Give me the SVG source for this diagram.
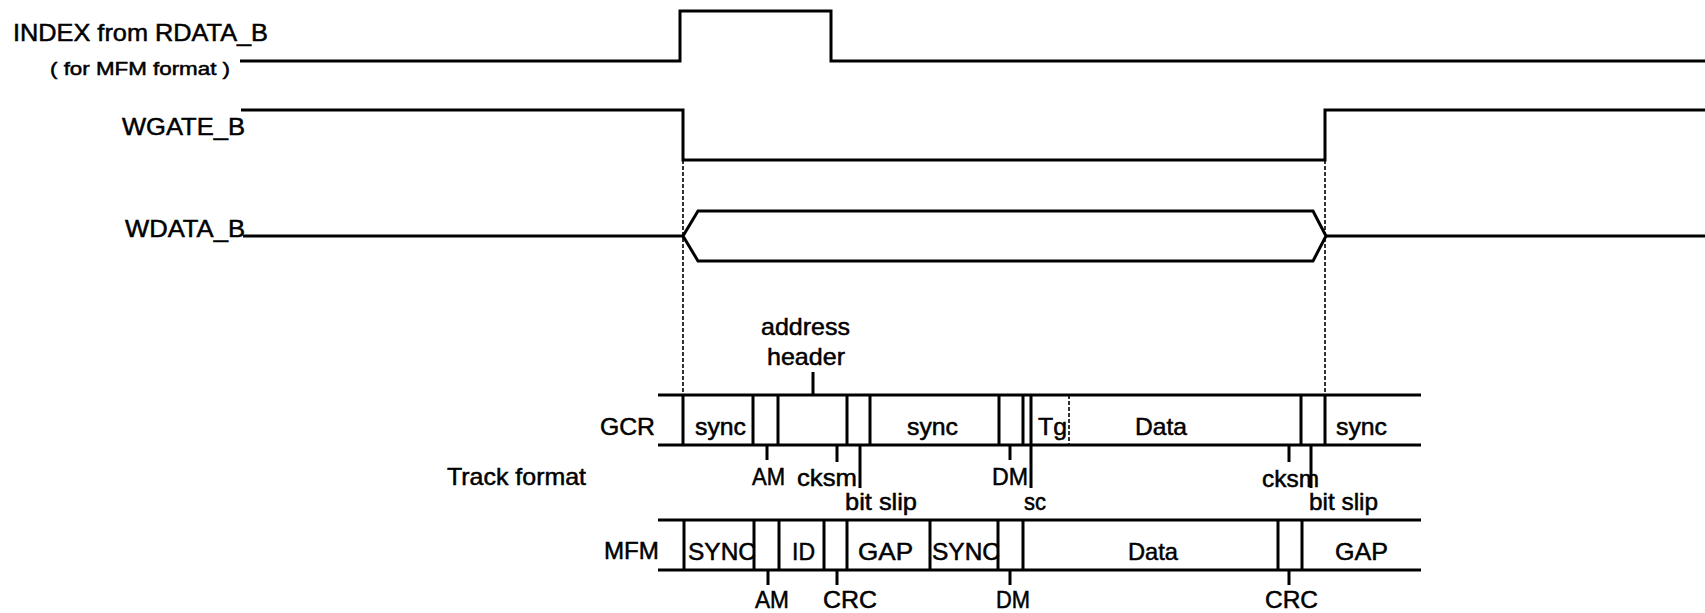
<svg xmlns="http://www.w3.org/2000/svg" width="1705" height="613" viewBox="0 0 1705 613">
<style>
.w{fill:none;stroke:#000;stroke-width:3;stroke-linejoin:miter;stroke-linecap:butt}
.d{fill:none;stroke:#000;stroke-width:1.6;stroke-dasharray:4 2}
.t{font-family:"Liberation Sans",Arial,Helvetica,sans-serif;font-size:24px;fill:#000;stroke:#000;stroke-width:0.5}
.s{font-family:"Liberation Sans",Arial,Helvetica,sans-serif;font-size:18px;fill:#000;stroke:#000;stroke-width:0.5}
</style>
<rect width="1705" height="613" fill="#fff"/>

<g id="signal-labels">
<text class="t" x="13" y="41" textLength="255" lengthAdjust="spacingAndGlyphs">INDEX from RDATA_B</text>
<text class="s" x="50" y="75" textLength="180" lengthAdjust="spacingAndGlyphs">( for MFM format )</text>
<text class="t" x="122" y="135" textLength="123" lengthAdjust="spacingAndGlyphs">WGATE_B</text>
<text class="t" x="125" y="237" textLength="120" lengthAdjust="spacingAndGlyphs">WDATA_B</text>
</g>

<g id="waveforms">
<polyline class="w" points="240,61 680,61 680,11 831,11 831,61 1705,61"/>
<polyline class="w" points="241,110 683,110 683,160 1325,160 1325,110 1705,110"/>
<polyline class="w" points="243,236 683,236"/>
<polygon class="w" points="683,236 698,211 1313,211 1326,236 1313,261 698,261"/>
<polyline class="w" points="1326,236 1705,236"/>
</g>

<g id="guides">
<line class="d" x1="683" y1="160" x2="683" y2="395"/>
<line class="d" x1="1325" y1="160" x2="1325" y2="395"/>
<line class="d" x1="1069" y1="395" x2="1069" y2="445"/>
</g>

<g id="track-labels">
<text class="t" x="600" y="435" textLength="55" lengthAdjust="spacingAndGlyphs">GCR</text>
<text class="t" x="447" y="485" textLength="139" lengthAdjust="spacingAndGlyphs">Track format</text>
<text class="t" x="604" y="559" textLength="55" lengthAdjust="spacingAndGlyphs">MFM</text>
<text class="t" x="761" y="335" textLength="89" lengthAdjust="spacingAndGlyphs">address</text>
<text class="t" x="767" y="365" textLength="78" lengthAdjust="spacingAndGlyphs">header</text>
</g>

<g id="gcr-track">
<line class="w" x1="658" y1="395" x2="1421" y2="395"/>
<line class="w" x1="658" y1="445" x2="1421" y2="445"/>
<path class="w" d="M683 395V445M753 395V445M778 395V445M847 395V445M870 395V445M999 395V445M1023 395V445M1031 395V445M1301 395V445M1325 395V445"/>
<path class="w" d="M813 372V395M767 445V460M837 445V462M860 445V488M1010 445V460M1031 445V488M1289 445V462M1311 445V488"/>
<text class="t" x="695" y="435" textLength="51" lengthAdjust="spacingAndGlyphs">sync</text>
<text class="t" x="907" y="435" textLength="51" lengthAdjust="spacingAndGlyphs">sync</text>
<text class="t" x="1038" y="435" textLength="29" lengthAdjust="spacingAndGlyphs">Tg</text>
<text class="t" x="1135" y="435" textLength="52" lengthAdjust="spacingAndGlyphs">Data</text>
<text class="t" x="1336" y="435" textLength="51" lengthAdjust="spacingAndGlyphs">sync</text>
<text class="t" x="752" y="485" textLength="33" lengthAdjust="spacingAndGlyphs">AM</text>
<text class="t" x="797" y="486" textLength="60" lengthAdjust="spacingAndGlyphs">cksm</text>
<text class="t" x="845" y="510" textLength="72" lengthAdjust="spacingAndGlyphs">bit slip</text>
<text class="t" x="992" y="485" textLength="36" lengthAdjust="spacingAndGlyphs">DM</text>
<text class="t" x="1024" y="510" textLength="22" lengthAdjust="spacingAndGlyphs">sc</text>
<text class="t" x="1262" y="487" textLength="57" lengthAdjust="spacingAndGlyphs">cksm</text>
<text class="t" x="1309" y="510" textLength="69" lengthAdjust="spacingAndGlyphs">bit slip</text>
</g>

<g id="mfm-track">
<line class="w" x1="658" y1="520" x2="1421" y2="520"/>
<line class="w" x1="658" y1="570" x2="1421" y2="570"/>
<text class="t" x="688" y="560" textLength="68" lengthAdjust="spacingAndGlyphs">SYNC</text>
<text class="t" x="932" y="560" textLength="68" lengthAdjust="spacingAndGlyphs">SYNC</text>
<path class="w" d="M684 520V570M754 520V570M779 520V570M824 520V570M847 520V570M930 520V570M998 520V570M1023 520V570M1278 520V570M1302 520V570"/>
<path class="w" d="M768 570V585M837 570V585M1010 570V585M1289 570V585"/>
<text class="t" x="792" y="560" textLength="23" lengthAdjust="spacingAndGlyphs">ID</text>
<text class="t" x="858" y="560" textLength="55" lengthAdjust="spacingAndGlyphs">GAP</text>
<text class="t" x="1128" y="560" textLength="50" lengthAdjust="spacingAndGlyphs">Data</text>
<text class="t" x="1335" y="560" textLength="53" lengthAdjust="spacingAndGlyphs">GAP</text>
<text class="t" x="755" y="608" textLength="34" lengthAdjust="spacingAndGlyphs">AM</text>
<text class="t" x="823" y="608" textLength="54" lengthAdjust="spacingAndGlyphs">CRC</text>
<text class="t" x="996" y="608" textLength="34" lengthAdjust="spacingAndGlyphs">DM</text>
<text class="t" x="1265" y="608" textLength="53" lengthAdjust="spacingAndGlyphs">CRC</text>
</g>
</svg>
